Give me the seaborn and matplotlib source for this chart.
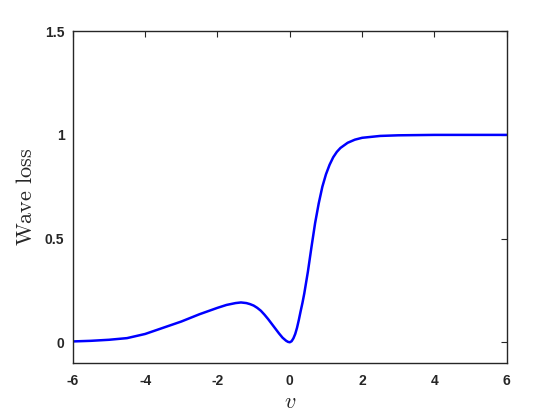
import matplotlib
matplotlib.use("Agg")
import matplotlib.pyplot as plt
import seaborn as sns
import pandas as pd

# valeurs
v_vals = [-6.0, -5.5, -5.0, -4.5, -4.0, -3.5, -3.0, -2.5, -2.0, -1.75,
          -1.5, -1.35, -1.2, -1.1, -1.0, -0.9, -0.8, -0.7, -0.6, -0.5, -0.4,
          -0.3, -0.2, -0.1, -0.05, 0.0, 0.05, 0.1, 0.15, 0.2, 0.25,
          0.3, 0.35, 0.4, 0.5, 0.6, 0.7, 0.8, 0.9, 1.0, 1.1,
          1.2, 1.3, 1.4, 1.6, 1.8, 2.0, 2.5, 3.0, 4.0, 5.0, 6.0]
loss_vals = [0.004, 0.007, 0.012, 0.02, 0.04, 0.07, 0.10, 0.135, 0.166, 0.180,
             0.189, 0.192, 0.189, 0.184, 0.177, 0.166, 0.152, 0.133, 0.112, 0.089, 0.066,
             0.043, 0.022, 0.007, 0.002, 0.0, 0.005, 0.019, 0.04, 0.07, 0.108,
             0.15, 0.19, 0.235, 0.34, 0.46, 0.575, 0.67, 0.75, 0.81, 0.856,
             0.892, 0.918, 0.937, 0.962, 0.977, 0.986, 0.995, 0.998, 1.0, 1.0, 1.0]
x_ticks = [-6, -4, -2, 0, 2, 4, 6]
y_ticks = [0, 0.5, 1, 1.5]
y_tick_labels = ["0", "0.5", "1", "1.5"]

sns.set_style("white")
plt.rcParams["font.family"] = ["Liberation Sans", "DejaVu Sans"]
plt.rcParams["mathtext.fontset"] = "cm"

df = pd.DataFrame({"v": v_vals, "loss": loss_vals})

fig = plt.figure(figsize=(5.6, 4.2), dpi=100)
ax = fig.add_axes([0.13, 0.1357, 0.775, 0.79])
sns.lineplot(data=df, x="v", y="loss", ax=ax, color=(0, 0, 1), linewidth=1.8)

ax.set_xlim(-6, 6)
ax.set_ylim(-0.1, 1.5)
ax.set_xticks(x_ticks)
ax.set_xticklabels([str(t) for t in x_ticks], fontweight="bold", fontsize=10)
ax.set_yticks(y_ticks)
ax.set_yticklabels(y_tick_labels, fontweight="bold", fontsize=10)
ax.tick_params(direction="in", length=4, width=0.8, colors="#262626",
               top=True, right=True, pad=6)
ax.tick_params(axis="x", pad=8)
for sp in ax.spines.values():
    sp.set_visible(True)
    sp.set_color("#262626")
    sp.set_linewidth(1.0)

ax.set_xlabel(r"$v$", fontsize=16, labelpad=3)
ax.set_ylabel(r"$\mathrm{Wave\ loss}$", fontsize=16, labelpad=6)

fig.savefig("out.png", dpi=100)
